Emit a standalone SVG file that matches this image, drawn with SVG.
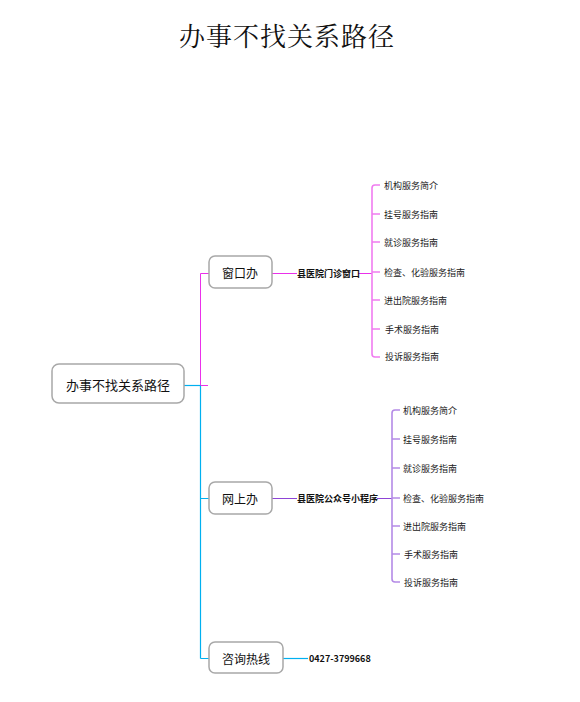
<svg xmlns="http://www.w3.org/2000/svg" width="580" height="702" viewBox="0 0 580 702">
<style>
.bg{fill:#ffffff}
.title{font-family:"AR PL UKai CN","Noto Serif CJK SC","Noto Sans CJK SC",serif;font-size:26px;fill:#111;letter-spacing:1px}
.box{fill:#fff;stroke:#a8a8a8;stroke-width:1.5}
.t1{font-family:"Noto Sans CJK SC","Noto Sans",sans-serif;font-size:13px;fill:#111;text-anchor:middle;dominant-baseline:central}
.t2{font-family:"Noto Sans CJK SC","Noto Sans",sans-serif;font-size:12px;fill:#111;text-anchor:middle;dominant-baseline:central}
.lbl{font-family:"Noto Sans CJK SC","Noto Sans",sans-serif;font-size:9px;font-weight:bold;fill:#111;dominant-baseline:central}
.leaf{font-family:"Noto Sans CJK SC","Noto Sans",sans-serif;font-size:9px;fill:#222;dominant-baseline:central}
.mag{stroke:#ea30ea;stroke-width:1;fill:none}
.magl{stroke:#f07cf0;stroke-width:1.6;fill:none}
.pur{stroke:#8e44d6;stroke-width:1;fill:none}
.purl{stroke:#b48ae6;stroke-width:1.6;fill:none}
.cyn{stroke:#00b0f0;stroke-width:1.2;fill:none}
</style>
<rect class="bg" x="0" y="0" width="580" height="702"/>
<text class="title" x="287" y="46" text-anchor="middle">办事不找关系路径</text>
<g id="connectors">
<path class="cyn" d="M184,385.5 H201"/>
<path class="mag" d="M200.5,273.5 V385.5 M200.5,273.5 H209 M200.5,385.5 H208"/>
<path class="cyn" d="M200.5,385.5 V658.5 M200.5,498.5 H209 M200.5,658.5 H209"/>
<path class="mag" d="M272,273.5 H297 M358,273.5 H372"/>
<path class="magl" d="M380,185 H375 Q372,185 372,188 V354 Q372,357 375,357 H380 M372,214 H380 M372,242 H380 M372,272 H380 M372,300 H380 M372,329 H380"/>
<path class="pur" d="M272,498.5 H297 M377,498.5 H392"/>
<path class="purl" d="M400,410 H395 Q392,410 392,413 V579 Q392,582 395,582 H400 M392,439 H400 M392,468 H400 M392,498 H400 M392,526 H400 M392,554 H400"/>
<path class="cyn" d="M283,658.5 H308"/>
</g>
<g id="root">
<rect class="box" x="52" y="364" width="132" height="39" rx="7"/>
<text class="t1" x="118" y="384">办事不找关系路径</text>
</g>
<g id="window">
<rect class="box" x="209" y="256" width="63" height="32" rx="6"/>
<text class="t2" x="240" y="272">窗口办</text>
</g>
<g id="window-label"><text class="lbl" x="297" y="273">县医院门诊窗口</text></g>
<g id="window-leaves">
<text class="leaf" x="384" y="185">机构服务简介</text>
<text class="leaf" x="384" y="214">挂号服务指南</text>
<text class="leaf" x="384" y="242">就诊服务指南</text>
<text class="leaf" x="384" y="272">检查、化验服务指南</text>
<text class="leaf" x="384" y="300">进出院服务指南</text>
<text class="leaf" x="385" y="329">手术服务指南</text>
<text class="leaf" x="385" y="356">投诉服务指南</text>
</g>
<g id="online">
<rect class="box" x="209" y="482" width="63" height="32" rx="6"/>
<text class="t2" x="240" y="498">网上办</text>
</g>
<g id="online-label"><text class="lbl" x="297" y="498">县医院公众号小程序</text></g>
<g id="online-leaves">
<text class="leaf" x="403" y="410">机构服务简介</text>
<text class="leaf" x="403" y="439">挂号服务指南</text>
<text class="leaf" x="403" y="468">就诊服务指南</text>
<text class="leaf" x="403" y="498">检查、化验服务指南</text>
<text class="leaf" x="403" y="526">进出院服务指南</text>
<text class="leaf" x="404" y="554">手术服务指南</text>
<text class="leaf" x="404" y="582">投诉服务指南</text>
</g>
<g id="hotline">
<rect class="box" x="209" y="642" width="74" height="31" rx="6"/>
<text class="t2" x="246" y="658">咨询热线</text>
</g>
<g id="hotline-label"><text class="lbl" x="309" y="658">0427-3799668</text></g>
</svg>
